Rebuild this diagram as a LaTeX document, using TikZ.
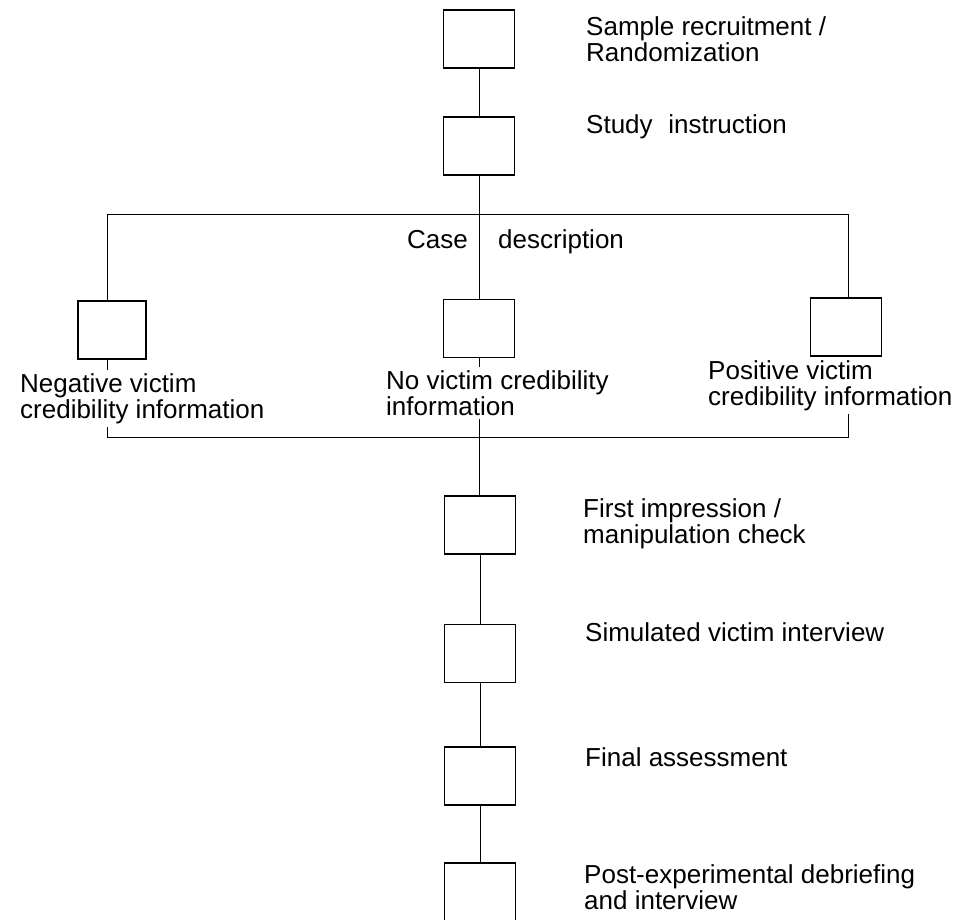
\documentclass[tikz,border=0pt]{standalone}
\usepackage{fontspec}
\setmainfont{Liberation Sans}
\usetikzlibrary{backgrounds}
\begin{document}
\begin{tikzpicture}[x=1pt,y=-1pt,
  stage/.style={draw, line width=1.1pt, fill=white, minimum width=71pt, minimum height=58pt, inner sep=0pt},
  lbl/.style={font=\fontsize{26}{26.5}\selectfont, inner sep=0pt, align=left},
  clbl/.style={lbl, fill=white, inner xsep=1pt, inner ysep=3pt},
  link/.style={line width=0.9pt}]
\useasboundingbox (0,0) rectangle (966,919);
% stage boxes
\node[stage] (s1) at (479,39) {};
\node[stage] (s2) at (479,146) {};
\node[stage, minimum width=68pt] (neg) at (112,330) {};
\node[stage] (nov) at (479,328.5) {};
\node[stage] (pos) at (846,327) {};
\node[stage] (fi) at (480,525) {};
\node[stage] (sv) at (480,653.5) {};
\node[stage] (fa) at (480,776) {};
\node[stage] (pe) at (480,892) {};
% branch corners
\coordinate (tl) at (107,214);
\coordinate (tr) at (848,214);
\coordinate (bl) at (107,437);
\coordinate (br) at (848,437);
% labels
\node[lbl, anchor=north west] (t1) at (586,16) {Sample recruitment /\\Randomization};
\node[lbl, anchor=base west] (t2) at (586,133) {Study\hspace{0.6em}instruction};
\node[lbl, anchor=base east] (t3a) at (468,248) {Case};
\node[lbl, anchor=base west] (t3b) at (498,248) {description};
\node[clbl, anchor=north west] (tneg) at (19,370) {Negative victim\\credibility information};
\node[clbl, anchor=north west] (tnov) at (385,367) {No victim credibility\\information};
\node[clbl, anchor=north west] (tpos) at (707,357) {Positive victim\\credibility information};
\node[lbl, anchor=north west] (t4) at (583,498) {First impression /\\manipulation check};
\node[lbl, anchor=base west] (t5) at (585,641) {Simulated victim interview};
\node[lbl, anchor=base west] (t6) at (585,766) {Final assessment};
\node[lbl, anchor=north west] (t7) at (584,864) {Post-experimental debriefing\\and interview};
% connectors
\begin{pgfonlayer}{background}
\draw[link] (s1) -- (s2);
\draw[link] (s2) -- (nov);
\draw[link] (tl) -- (tr);
\draw[link] (tl) -- (tl |- neg.north);
\draw[link] (tr) -- (tr |- pos.north);
\draw[link] (tl |- neg.south) -- (bl) -- (br) -- (tr |- pos.south);
\draw[link] (nov) -- (nov |- fi.north);
\draw[link] (fi) -- (sv);
\draw[link] (sv) -- (fa);
\draw[link] (fa) -- (pe);
\end{pgfonlayer}
\end{tikzpicture}
\end{document}
